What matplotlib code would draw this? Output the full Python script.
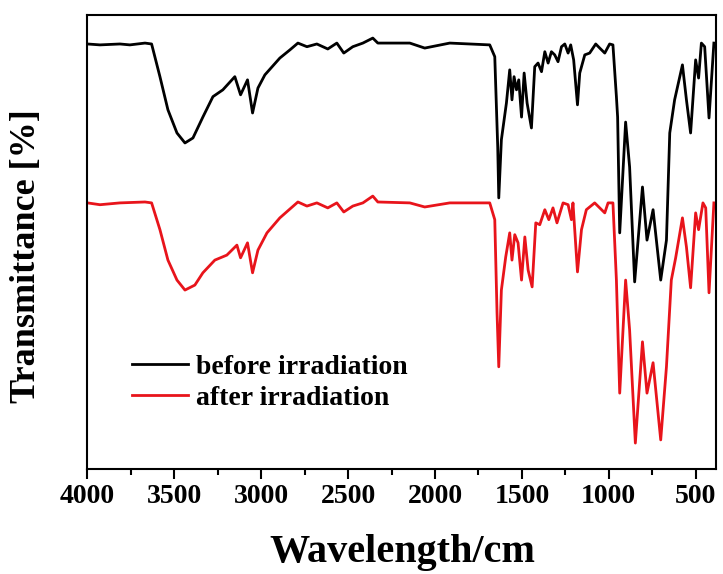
import matplotlib
matplotlib.use("Agg")
import matplotlib.pyplot as plt
from matplotlib.ticker import MultipleLocator
import numpy as np

plt.rcParams['font.family'] = ['Liberation Serif', 'DejaVu Serif']
plt.rcParams['font.weight'] = 'bold'

# spectra (wavenumber in cm-1, transmittance in arb. %)
wn_before = [4000, 3928, 3813, 3756, 3669, 3631, 3583, 3537, 3485, 3439,
             3393, 3336, 3278, 3221, 3152, 3119, 3079, 3050, 3019, 2979,
             2893, 2835, 2789, 2737, 2680, 2617, 2565, 2525, 2473, 2415,
             2358, 2329, 2145, 2059, 1915, 1685, 1656, 1639, 1633, 1618,
             1589, 1570, 1557, 1545, 1531, 1518, 1502, 1487, 1470, 1445,
             1426, 1407, 1387, 1368, 1349, 1330, 1311, 1292, 1272, 1253,
             1234, 1219, 1202, 1180, 1167, 1138, 1110, 1075, 1052, 1023,
             995, 976, 956, 949, 937, 903, 880, 851, 806, 780,
             745, 701, 668, 649, 621, 576, 553, 529, 500, 483,
             467, 448, 423, 395]
t_before = [93.6, 93.4, 93.6, 93.4, 93.8, 93.6, 86.4, 79.1, 74.0, 71.8,
            72.9, 77.5, 82.0, 83.5, 86.4, 82.4, 85.7, 78.4, 83.9, 86.8,
            90.5, 92.3, 93.8, 93.0, 93.6, 92.5, 93.8, 91.6, 93.0, 93.8,
            94.9, 93.8, 93.8, 92.7, 93.8, 93.4, 90.8, 70.9, 59.7, 72.5,
            80.6, 87.9, 81.3, 86.4, 83.5, 85.7, 77.5, 87.2, 80.6, 75.1,
            88.6, 89.4, 87.5, 91.9, 89.4, 91.9, 91.2, 89.7, 93.0, 93.6,
            91.6, 93.4, 90.1, 80.2, 87.2, 91.2, 91.6, 93.6, 92.7, 91.6,
            93.6, 93.4, 82.0, 77.5, 52.0, 76.4, 66.5, 41.2, 62.1, 50.4,
            57.1, 41.6, 50.4, 74.0, 81.3, 89.0, 81.3, 74.0, 90.1, 86.1,
            93.8, 93.0, 77.3, 93.8]

wn_after = [4000, 3928, 3813, 3669, 3631, 3583, 3537, 3485, 3439, 3382,
            3336, 3267, 3198, 3140, 3119, 3079, 3050, 3019, 2967, 2893,
            2789, 2737, 2680, 2617, 2565, 2525, 2473, 2415, 2358, 2329,
            2145, 2059, 1915, 1685, 1656, 1643, 1633, 1618, 1593, 1570,
            1557, 1541, 1522, 1502, 1483, 1464, 1441, 1420, 1397, 1368,
            1345, 1321, 1298, 1263, 1234, 1215, 1206, 1180, 1157, 1129,
            1081, 1052, 1023, 1004, 976, 956, 937, 903, 880, 847,
            806, 780, 745, 701, 668, 640, 615, 576, 553, 529,
            500, 483, 458, 442, 423, 395]
t_after = [58.6, 58.2, 58.6, 58.8, 58.6, 52.7, 46.0, 41.6, 39.4, 40.5,
           43.2, 46.0, 47.1, 49.3, 46.5, 49.8, 43.2, 48.2, 52.0, 55.3,
           58.8, 57.9, 58.6, 57.5, 58.6, 56.6, 57.9, 58.6, 60.1, 58.8,
           58.6, 57.7, 58.6, 58.6, 54.9, 34.4, 22.5, 39.4, 46.7, 52.0,
           46.0, 51.6, 49.8, 41.6, 51.1, 43.8, 40.1, 54.2, 53.8, 57.1,
           54.9, 57.5, 54.2, 58.6, 58.2, 54.9, 58.6, 43.4, 52.7, 57.1,
           58.6, 57.5, 56.4, 58.6, 58.6, 41.6, 16.7, 41.6, 30.6, 5.7,
           28.0, 16.7, 23.4, 6.4, 22.5, 41.6, 46.5, 55.3, 48.9, 39.9,
           56.4, 52.7, 58.6, 57.5, 38.8, 58.6]

fig = plt.figure(figsize=(7.23, 5.74), dpi=100)
ax = fig.add_axes([0.121, 0.183, 0.870, 0.791])

ax.plot(wn_before, t_before, color='black', lw=2.0, label='before irradiation')
ax.plot(wn_after, t_after, color='#e8141b', lw=2.0, label='after irradiation')

ax.set_xlim(4000, 380)
ax.set_ylim(0, 100)
ax.xaxis.set_major_locator(MultipleLocator(500))
ax.xaxis.set_minor_locator(MultipleLocator(250))
ax.set_yticks([])
ax.tick_params(axis='x', which='major', direction='out', length=7, width=1.5,
               labelsize=20, pad=4)
ax.tick_params(axis='x', which='minor', direction='out', length=4, width=1.5)
for s in ax.spines.values():
    s.set_linewidth(1.5)

ax.set_xlabel('Wavelength/cm', fontsize=29, fontweight='bold', labelpad=18)
ax.set_ylabel('Transmittance [%]', fontsize=26, fontweight='bold')
ax.yaxis.set_label_coords(-0.071, 0.469)

ax.legend(loc='upper left', bbox_to_anchor=(0.071, 0.252), frameon=False,
          fontsize=20, handlelength=2.0, handletextpad=0.3, labelspacing=0.2,
          borderaxespad=0, borderpad=0)

fig.savefig('out.png', dpi=100)
